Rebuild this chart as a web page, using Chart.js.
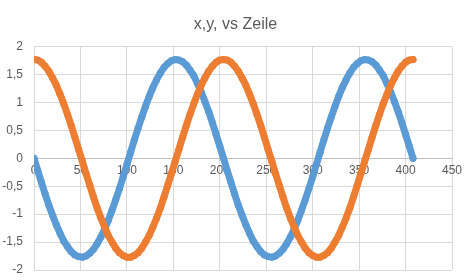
<!DOCTYPE html>
<html>
<head>
<meta charset="utf-8">
<script src="https://cdn.jsdelivr.net/npm/chart.js@4/dist/chart.umd.min.js"></script>
<style>
html,body{margin:0;padding:0;background:#fff;}
#c{display:block;}
</style>
</head>
<body>
<canvas id="c" width="471" height="280"></canvas>
<script>
const titleText = "x,y, vs Zeile";
const zeile = [0,4,8,12,16,20,24,28,32,36,40,44,48,52,56,60,64,68,72,76,80,84,88,92,96,100,104,108,112,116,120,124,128,132,136,140,144,148,152,156,160,164,168,172,176,180,184,188,192,196,200,204,208,212,216,220,224,228,232,236,240,244,248,252,256,260,264,268,272,276,280,284,288,292,296,300,304,308,312,316,320,324,328,332,336,340,344,348,352,356,360,364,368,372,376,380,384,388,392,396,400,404,408];
const xWerte = [0,-0.22,-0.43,-0.64,-0.84,-1.02,-1.19,-1.34,-1.48,-1.58,-1.67,-1.73,-1.76,-1.77,-1.75,-1.70,-1.63,-1.53,-1.41,-1.27,-1.11,-0.93,-0.74,-0.54,-0.33,-0.11,0.11,0.33,0.54,0.74,0.93,1.11,1.27,1.41,1.53,1.63,1.70,1.75,1.77,1.76,1.73,1.67,1.58,1.48,1.34,1.19,1.02,0.84,0.64,0.43,0.22,0,
  -0.22,-0.43,-0.64,-0.84,-1.02,-1.19,-1.34,-1.48,-1.58,-1.67,-1.73,-1.76,-1.77,-1.75,-1.70,-1.63,-1.53,-1.41,-1.27,-1.11,-0.93,-0.74,-0.54,-0.33,-0.11,0.11,0.33,0.54,0.74,0.93,1.11,1.27,1.41,1.53,1.63,1.70,1.75,1.77,1.76,1.73,1.67,1.58,1.48,1.34,1.19,1.02,0.84,0.64,0.43,0.22,0];
const yWerte = [1.77,1.76,1.72,1.65,1.56,1.44,1.31,1.15,0.98,0.79,0.59,0.38,0.16,-0.05,-0.27,-0.48,-0.69,-0.89,-1.07,-1.23,-1.38,-1.50,-1.61,-1.69,-1.74,-1.77,-1.77,-1.74,-1.69,-1.61,-1.50,-1.38,-1.23,-1.07,-0.89,-0.69,-0.48,-0.27,-0.05,0.16,0.38,0.59,0.79,0.98,1.15,1.31,1.44,1.56,1.65,1.72,1.76,1.77,
  1.76,1.72,1.65,1.56,1.44,1.31,1.15,0.98,0.79,0.59,0.38,0.16,-0.05,-0.27,-0.48,-0.69,-0.89,-1.07,-1.23,-1.38,-1.50,-1.61,-1.69,-1.74,-1.77,-1.77,-1.74,-1.69,-1.61,-1.50,-1.38,-1.23,-1.07,-0.89,-0.69,-0.48,-0.27,-0.05,0.16,0.38,0.59,0.79,0.98,1.15,1.31,1.44,1.56,1.65,1.72,1.76,1.77];
const seriesNames = ["x", "y"];
const xTicks = {min: 0, max: 450, step: 50};
const yTicks = {min: -2, max: 2, step: 0.5};

const toPoints = vals => zeile.map((z, i) => ({x: z, y: vals[i]}));
const fmt = v => String(Math.round(v * 100) / 100).replace('.', ',');
const FONT = 'Liberation Sans, Arial, sans-serif';

const lineStyle = color => ({
  showLine: true,
  borderColor: color,
  backgroundColor: color,
  borderWidth: 7,
  borderCapStyle: 'round',
  borderJoinStyle: 'round',
  pointRadius: 3.5,
  pointBorderWidth: 0,
  pointBackgroundColor: color,
  tension: 0
});

new Chart(document.getElementById('c'), {
  type: 'scatter',
  data: {
    datasets: [
      Object.assign({label: seriesNames[0], data: toPoints(xWerte), order: 2}, lineStyle('#5b9bd5')),
      Object.assign({label: seriesNames[1], data: toPoints(yWerte), order: 1}, lineStyle('#ed7d31'))
    ]
  },
  options: {
    responsive: false,
    devicePixelRatio: 1,
    animation: false,
    layout: {padding: {left: 0, right: 0, top: 0, bottom: 10}},
    plugins: {
      legend: {display: false},
      tooltip: {enabled: false},
      title: {
        display: true,
        text: titleText,
        color: '#595959',
        font: {family: FONT, size: 16, weight: 'normal'},
        padding: {top: 15, bottom: 12.5}
      }
    },
    scales: {
      x: {
        type: 'linear',
        position: {y: 0},
        min: xTicks.min, max: xTicks.max,
        afterFit: s => { s.paddingLeft = 0; s.paddingRight = 0; },
        ticks: {
          stepSize: xTicks.step,
          color: '#595959',
          font: {family: FONT, size: 12},
          padding: 5,
          maxRotation: 0,
          callback: v => fmt(v)
        },
        grid: {color: '#d9d9d9', lineWidth: 1, drawTicks: false},
        border: {display: true, color: '#bfbfbf', width: 1}
      },
      y: {
        type: 'linear',
        position: 'left',
        min: yTicks.min, max: yTicks.max,
        afterFit: s => { s.width = 34; s.paddingTop = 0; s.paddingBottom = 0; },
        ticks: {
          stepSize: yTicks.step,
          color: '#595959',
          font: {family: FONT, size: 12},
          padding: 11,
          callback: v => fmt(v)
        },
        grid: {color: '#d9d9d9', lineWidth: 1, drawTicks: false},
        border: {display: true, color: '#d9d9d9', width: 1}
      },
      yRand: {
        type: 'linear',
        position: 'right',
        display: true,
        min: yTicks.min, max: yTicks.max,
        afterFit: s => { s.width = 19; s.paddingTop = 0; s.paddingBottom = 0; },
        ticks: {display: false},
        grid: {display: false, drawTicks: false},
        border: {display: false}
      }
    }
  }
});
</script>
</body>
</html>
